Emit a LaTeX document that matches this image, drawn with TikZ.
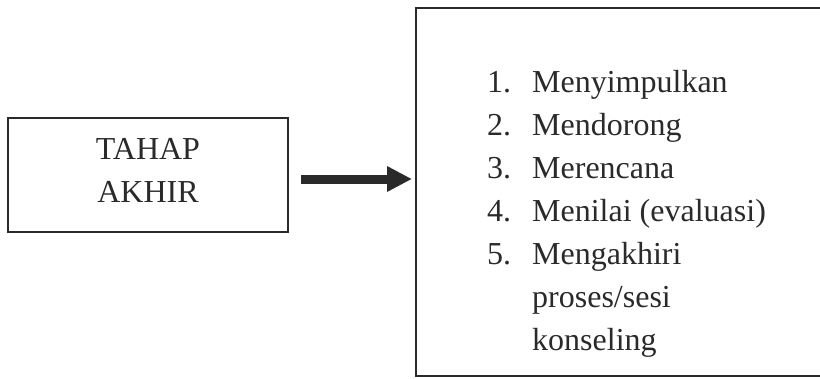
\documentclass[tikz,border=0pt]{standalone}
\usepackage{fontspec}
\setmainfont{Liberation Serif}
\usetikzlibrary{arrows.meta}
\definecolor{ink}{HTML}{2A2A2A}
\tikzset{
  frame/.style={draw=ink, line width=2pt, inner sep=0pt},
  bigarrow/.style={draw=ink, line width=9pt,
    -{Triangle[length=25pt,width=24pt]}},
  txt/.style={text=ink, font=\fontsize{32}{43}\selectfont}
}
\begin{document}
\begin{tikzpicture}[x=1pt,y=-1pt]
  \useasboundingbox (0,0) rectangle (820,378);
  \clip (0,0) rectangle (820,378);
  % stage box on the left
  \node[frame, minimum width=280pt, minimum height=114pt]
    (stage) at (148,175) {};
  \node[txt, align=center, inner sep=0pt] (stagetext) at (148,170)
    {TAHAP\\AKHIR};
  % box holding the list of steps (runs past the right edge)
  \node[frame, minimum width=410pt, minimum height=368pt]
    (steps) at (621,192) {};
  % list of steps
  \node[txt, anchor=base west, inner sep=0pt] (items) at (487,92) {%
    \begin{tabular}[t]{@{}p{45pt}@{}l@{}}
      1. & Menyimpulkan\\
      2. & Mendorong\\
      3. & Merencana\\
      4. & Menilai (evaluasi)\\
      5. & Mengakhiri\\
         & proses/sesi\\
         & konseling
    \end{tabular}};
  % arrow from the stage box to the list
  \draw[bigarrow, shorten <=12pt, shorten >=3pt]
    (stage.east |- 0,179) -- (steps.west |- 0,179);
\end{tikzpicture}
\end{document}
